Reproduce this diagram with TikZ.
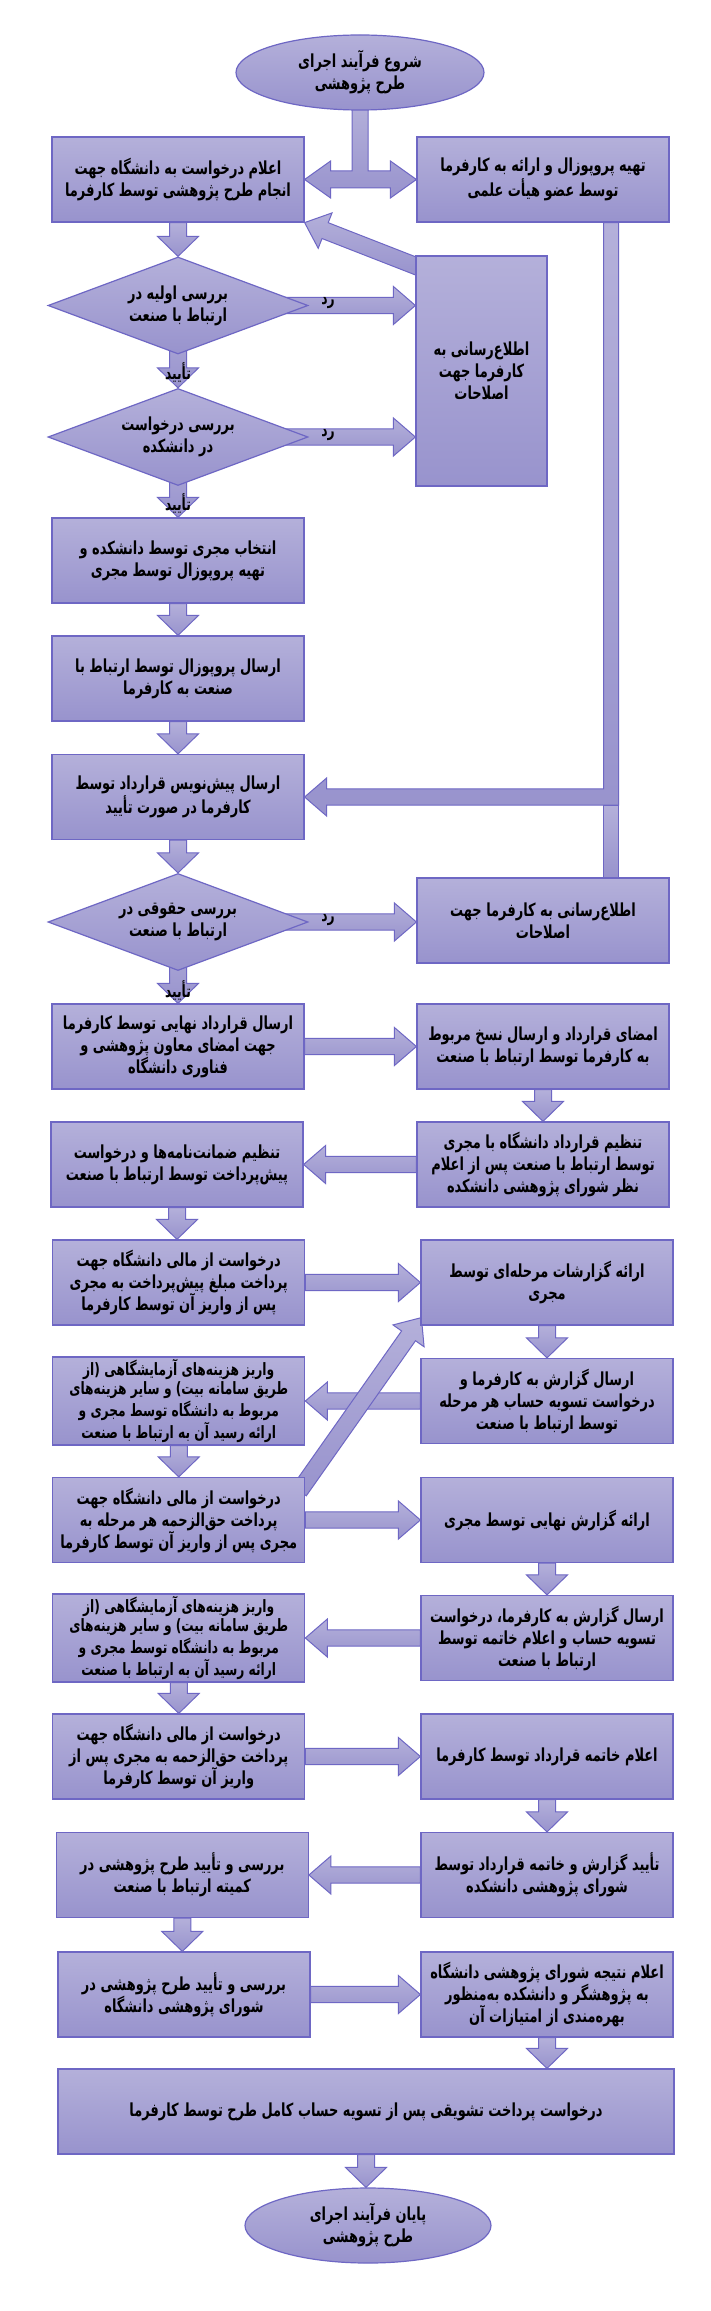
\documentclass[tikz,border=0pt]{standalone}
\usepackage{fontspec}
\usetikzlibrary{shapes.geometric,calc}
\TeXXeTstate=1
\newfontfamily\fa[Script=Arabic,FakeStretch=0.72]{DejaVu Sans}
\newcommand\rl[1]{\beginR #1\endR}
\definecolor{btop}{HTML}{B4B0DA}
\definecolor{bbot}{HTML}{9893CD}
\definecolor{bedge}{HTML}{6E67C4}
\pgfdeclarelayer{bg}\pgfsetlayers{bg,main}
\tikzset{
 base/.style={draw=bedge, line width=0.6pt, top color=btop, bottom color=bbot},
 bx/.style={base, rectangle, minimum width=126pt, minimum height=42.5pt, inner sep=1pt, align=center, font=\fa\bfseries\fontsize{9}{11}\selectfont},
 bxs/.style={bx, font=\fa\bfseries\fontsize{8.5}{9.8}\selectfont},
 dia/.style={base, diamond, minimum width=130pt, minimum height=48.5pt, inner sep=0pt},
 ell/.style={base, ellipse, minimum width=124pt, minimum height=37.5pt, inner sep=0pt},
 txt/.style={align=center, inner sep=0pt, font=\fa\bfseries\fontsize{9}{11}\selectfont},
 arr/.style={draw=bedge, line width=0.5pt, top color=btop, bottom color=bbot},
 lbl/.style={inner sep=0pt, font=\fa\bfseries\fontsize{8.5}{10}\selectfont},
}
% vertical down block arrow: x of #1, from #1 to y of #2
\newcommand\vArr[2]{\path[arr] let \p1=(#1), \p2=(#2) in (\x1-4.25pt,\y1) -- (\x1-4.25pt,\y2+10pt) -- (\x1-10.25pt,\y2+10pt) -- (\x1,\y2) -- (\x1+10.25pt,\y2+10pt) -- (\x1+4.25pt,\y2+10pt) -- (\x1+4.25pt,\y1) -- cycle;}
% rightward block arrow at y of #1
\newcommand\rArr[2]{\path[arr] let \p1=(#1), \p2=(#2) in (\x1,\y1+4.1pt) -- (\x2-11pt,\y1+4.1pt) -- (\x2-11pt,\y1+9.5pt) -- (\x2,\y1) -- (\x2-11pt,\y1-9.5pt) -- (\x2-11pt,\y1-4.1pt) -- (\x1,\y1-4.1pt) -- cycle;}
% leftward block arrow at y of #1
\newcommand\lArr[2]{\path[arr] let \p1=(#1), \p2=(#2) in (\x1,\y1+4.1pt) -- (\x2+11pt,\y1+4.1pt) -- (\x2+11pt,\y1+9.5pt) -- (\x2,\y1) -- (\x2+11pt,\y1-9.5pt) -- (\x2+11pt,\y1-4.1pt) -- (\x1,\y1-4.1pt) -- cycle;}
% slanted block arrow from #1 to #2
\newcommand\dArr[2]{\path[arr] let \p1=(#1), \p2=(#2), \n1={atan2(\y2-\y1,\x2-\x1)}, \n2={veclen(\x2-\x1,\y2-\y1)} in
 ($(\p1)+({\n1+90}:4.25pt)$) -- ($(\p1)+(\n1:{\n2-11pt})+({\n1+90}:4.25pt)$) -- ($(\p1)+(\n1:{\n2-11pt})+({\n1+90}:9.5pt)$) -- (\p2) -- ($(\p1)+(\n1:{\n2-11pt})+({\n1-90}:9.5pt)$) -- ($(\p1)+(\n1:{\n2-11pt})+({\n1-90}:4.25pt)$) -- ($(\p1)+({\n1-90}:4.25pt)$) -- cycle;}

\begin{document}
\begin{tikzpicture}[x=0.5pt,y=-0.5pt]
\begin{pgfonlayer}{bg}
\fill[white] (0,0) rectangle (711,2311);
\end{pgfonlayer}
\useasboundingbox (0,0) rectangle (711,2311);

% ---- nodes ----
\node[ell] (S) at (360,72.5) {};
\node[txt] (St) at (S) {\rl{شروع فرآیند اجرای}\\\rl{طرح پژوهشی}};

\node[bx] (L1) at (178,179.5) {\rl{اعلام درخواست به دانشگاه جهت}\\\rl{انجام طرح پژوهشی توسط کارفرما}};
\node[bx] (R1) at (543,179.5) {\rl{تهیه پروپوزال و ارائه به کارفرما}\\\rl{توسط عضو هیأت علمی}};

\node[dia] (D1) at (178,305.5) {};
\node[txt] (D1t) at (D1) {\rl{بررسی اولیه در}\\\rl{ارتباط با صنعت}};
\node[bx, minimum width=65.5pt, minimum height=115pt] (N1) at (481.5,371) {\rl{اطلاع‌رسانی به}\\\rl{کارفرما جهت}\\\rl{اصلاحات}};

\node[dia] (D2) at (178,437) {};
\node[txt] (D2t) at (D2) {\rl{بررسی درخواست}\\\rl{در دانشکده}};

\node[bx] (L3) at (178,560.5) {\rl{انتخاب مجری توسط دانشکده و}\\\rl{تهیه پروپوزال توسط مجری}};
\node[bx] (L4) at (178,678.5) {\rl{ارسال پروپوزال توسط ارتباط با}\\\rl{صنعت به کارفرما}};
\node[bx] (L5) at (178,797) {\rl{ارسال پیش‌نویس قرارداد توسط}\\\rl{کارفرما در صورت تأیید}};

\node[dia] (D3) at (178,922) {};
\node[txt] (D3t) at (D3) {\rl{بررسی حقوقی در}\\\rl{ارتباط با صنعت}};
\node[bx] (R2) at (543,920.5) {\rl{اطلاع‌رسانی به کارفرما جهت}\\\rl{اصلاحات}};

\node[bx] (L6) at (178,1046.5) {\rl{ارسال قرارداد نهایی توسط کارفرما}\\\rl{جهت امضای معاون پژوهشی و}\\\rl{فناوری دانشگاه}};
\node[bx] (R3) at (543,1046.5) {\rl{امضای قرارداد و ارسال نسخ مربوط}\\\rl{به کارفرما توسط ارتباط با صنعت}};

\node[bx] (R4) at (543,1164.5) {\rl{تنظیم قرارداد دانشگاه با مجری}\\\rl{توسط ارتباط با صنعت پس از اعلام}\\\rl{نظر شورای پژوهشی دانشکده}};
\node[bx] (L7) at (177,1164.5) {\rl{تنظیم ضمانت‌نامه‌ها و درخواست}\\\rl{پیش‌پرداخت توسط ارتباط با صنعت}};

\node[bx] (L8) at (178.75,1282.5) {\rl{درخواست از مالی دانشگاه جهت}\\\rl{پرداخت مبلغ پیش‌پرداخت به مجری}\\\rl{پس از واریز آن توسط کارفرما}};
\node[bx] (R5) at (547,1282.5) {\rl{ارائه گزارشات مرحله‌ای توسط}\\\rl{مجری}};

\node[bxs] (L9) at (178.75,1401) {\rl{واریز هزینه‌های آزمایشگاهی (از}\\\rl{طریق سامانه بیت) و سایر هزینه‌های}\\\rl{مربوط به دانشگاه توسط مجری و}\\\rl{ارائه رسید آن به ارتباط با صنعت}};
\node[bx] (R6) at (547,1401) {\rl{ارسال گزارش به کارفرما و}\\\rl{درخواست تسویه حساب هر مرحله}\\\rl{توسط ارتباط با صنعت}};

\node[bx] (L10) at (178.75,1520) {\rl{درخواست از مالی دانشگاه جهت}\\\rl{پرداخت حق‌الزحمه هر مرحله به}\\\rl{مجری پس از واریز آن توسط کارفرما}};
\node[bx] (R7) at (547,1520) {\rl{ارائه گزارش نهایی توسط مجری}};

\node[bx] (R8) at (547,1638) {\rl{ارسال گزارش به کارفرما، درخواست}\\\rl{تسویه حساب و اعلام خاتمه توسط}\\\rl{ارتباط با صنعت}};
\node[bxs] (L11) at (178.75,1638) {\rl{واریز هزینه‌های آزمایشگاهی (از}\\\rl{طریق سامانه بیت) و سایر هزینه‌های}\\\rl{مربوط به دانشگاه توسط مجری و}\\\rl{ارائه رسید آن به ارتباط با صنعت}};

\node[bx] (L12) at (178.75,1756.5) {\rl{درخواست از مالی دانشگاه جهت}\\\rl{پرداخت حق‌الزحمه به مجری پس از}\\\rl{واریز آن توسط کارفرما}};
\node[bx] (R9) at (547,1756.5) {\rl{اعلام خاتمه قرارداد توسط کارفرما}};

\node[bx] (R10) at (547,1875) {\rl{تأیید گزارش و خاتمه قرارداد توسط}\\\rl{شورای پژوهشی دانشکده}};
\node[bx] (L13) at (182.3,1875) {\rl{بررسی و تأیید طرح پژوهشی در}\\\rl{کمیته ارتباط با صنعت}};

\node[bx] (L14) at (184,1994.5) {\rl{بررسی و تأیید طرح پژوهشی در}\\\rl{شورای پژوهشی دانشگاه}};
\node[bx] (R11) at (547,1994.5) {\rl{اعلام نتیجه شورای پژوهشی دانشگاه}\\\rl{به پژوهشگر و دانشکده به‌منظور}\\\rl{بهره‌مندی از امتیازات آن}};

\node[bx, minimum width=308pt] (W) at (366,2111.5) {\rl{درخواست پرداخت تشویقی پس از تسویه حساب کامل طرح توسط کارفرما}};

\node[ell, minimum width=123pt] (E) at (368,2225.5) {};
\node[txt] (Et) at (E) {\rl{پایان فرآیند اجرای}\\\rl{طرح پژوهشی}};

% ---- connectors (behind the boxes) ----
\begin{pgfonlayer}{bg}
% T-shaped arrow from start
\path[arr] let \p1=(S.south), \p2=(L1.east), \p3=(R1.west) in
 (\x1-4pt,\y1+4pt) -- (\x1-4pt,\y2+4.25pt) -- (\x2+13pt,\y2+4.25pt) -- (\x2+13pt,\y2+9.25pt) -- (\x2,\y2)
 -- (\x2+13pt,\y2-9.25pt) -- (\x2+13pt,\y2-4.25pt) -- (\x3-13pt,\y2-4.25pt) -- (\x3-13pt,\y2-9.25pt)
 -- (\x3,\y2) -- (\x3-13pt,\y2+9.25pt) -- (\x3-13pt,\y2+4.25pt) -- (\x1+4pt,\y2+4.25pt) -- (\x1+4pt,\y1+4pt) -- cycle;

\vArr{L1.south}{D1.north}
\vArr{D1.center}{D2.north}
\vArr{D2.center}{L3.north}
\vArr{L3.south}{L4.north}
\vArr{L4.south}{L5.north}
\vArr{L5.south}{D3.north}
\vArr{D3.center}{L6.north}
\rArr{D1.center}{N1.west |- D1.center}
\rArr{D2.center}{N1.west |- D2.center}
\rArr{D3.center}{R2.west}
\coordinate (n1tail) at ($(N1.north west)+(4,12)$);
\dArr{n1tail}{L1.south east}

% elbow connectors on the right to L5
\path[arr] let \p1=(R2.north), \p2=(L5.east) in
 (\x1+30.25pt,\y1) -- (\x1+30.25pt,\y2-4.1pt) -- (\x1+37.75pt,\y2-4.1pt) -- (\x1+37.75pt,\y1) -- cycle;
\path[arr] let \p1=(R1.south), \p2=(L5.east) in
 (\x1+30.25pt,\y1) -- (\x1+30.25pt,\y2+4.1pt) -- (\x2+11pt,\y2+4.1pt) -- (\x2+11pt,\y2+9.5pt) -- (\x2,\y2)
 -- (\x2+11pt,\y2-9.5pt) -- (\x2+11pt,\y2-4.1pt) -- (\x1+37.75pt,\y2-4.1pt) -- (\x1+37.75pt,\y1) -- cycle;

\rArr{L6.east}{R3.west}
\vArr{R3.south}{R4.north}
\lArr{R4.west}{L7.east}
\vArr{L7.south}{L8.north}
\rArr{L8.east}{R5.west}
\vArr{R5.south}{R6.north}
\lArr{R6.west}{L9.east}
\vArr{L9.south}{L10.north}
\coordinate (l10tail) at ($(L10.north east)+(-6,14)$);
\coordinate (r5tip) at ($(R5.south west)+(1,-8)$);
\dArr{l10tail}{r5tip}
\rArr{L10.east}{R7.west}
\vArr{R7.south}{R8.north}
\lArr{R8.west}{L11.east}
\vArr{L11.south}{L12.north}
\rArr{L12.east}{R9.west}
\vArr{R9.south}{R10.north}
\lArr{R10.west}{L13.east}
\vArr{L13.south}{L14.north}
\rArr{L14.east}{R11.west}
\vArr{R11.south}{W.north}
\vArr{W.south}{E.north}
\end{pgfonlayer}

% ---- labels ----
\node[lbl] (t1) at (178,372) {\rl{تأیید}};
\node[lbl] (t2) at (178,503) {\rl{تأیید}};
\node[lbl] (t3) at (178,990) {\rl{تأیید}};
\node[lbl] (r1) at (328,303) {\rl{رد}};
\node[lbl] (r2) at (328,435) {\rl{رد}};
\node[lbl] (r3) at (328,920) {\rl{رد}};
\end{tikzpicture}
\end{document}
